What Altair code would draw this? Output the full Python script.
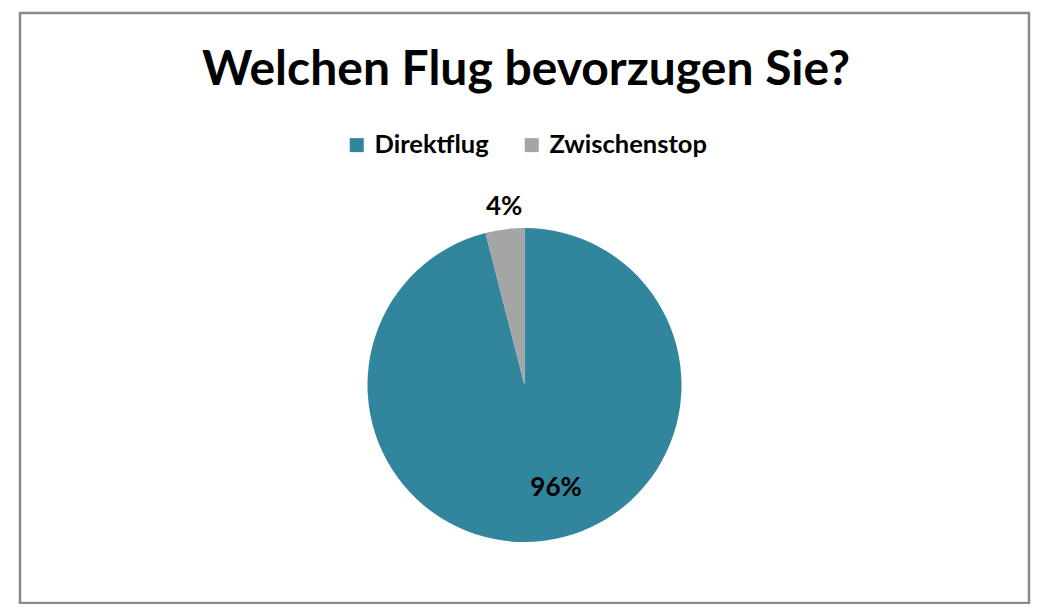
import altair as alt
import pandas as pd

TITLE = "Welchen Flug bevorzugen Sie?"
categories = ["Direktflug", "Zwischenstop"]
values = [96, 4]
labels = ["96%", "4%"]
colors = ["#31859C", "#A5A5A5"]

FONT = "Lato"

df = pd.DataFrame({
    "kategorie": categories,
    "wert": values,
    "label": labels,
    "idx": list(range(len(categories))),
})

base = alt.Chart(df)

theta = alt.Theta("wert:Q", stack=True)
order = alt.Order("idx:Q", sort="ascending")

pie = base.mark_arc(radius=157, stroke=None).encode(
    theta=theta,
    order=order,
    color=alt.Color(
        "kategorie:N",
        scale=alt.Scale(domain=categories, range=colors),
        legend=alt.Legend(
            title=None,
            orient="none",
            direction="horizontal",
            legendX=324,
            legendY=119,
            symbolType="square",
            symbolSize=196,
            symbolStrokeWidth=0,
            labelFont=FONT,
            labelFontSize=25.5,
            labelFontWeight="bold",
            labelColor="#000000",
            labelOffset=5,
            columnPadding=30,
            labelLimit=400,
        ),
    ),
    x=alt.value(504.5),
    y=alt.value(372),
)

lab_small = base.transform_calculate(
    t="datum.kategorie == 'Zwischenstop' ? datum.label : ''"
).mark_text(
    radius=179, dx=2, font=FONT, fontSize=26, fontWeight="bold", color="#000000", baseline="middle"
).encode(theta=theta, order=order, text="t:N", x=alt.value(504.5), y=alt.value(372))

lab_big = base.transform_calculate(
    t="datum.kategorie == 'Direktflug' ? datum.label : ''"
).mark_text(
    radius=108, dx=18, dy=-4, font=FONT, fontSize=26, fontWeight="bold", color="#000000", baseline="middle"
).encode(theta=theta, order=order, text="t:N", x=alt.value(504.5), y=alt.value(372))

title = alt.Chart(pd.DataFrame({"t": [TITLE]})).mark_text(
    font=FONT, fontSize=48, fontWeight="bold", color="#000000", baseline="alphabetic", align="center"
).encode(text="t:N", x=alt.value(506), y=alt.value(72))

chart = alt.layer(pie, lab_small, lab_big, title).properties(
    width=1028,
    height=596,
    padding={"left": 12, "top": 5, "right": 7, "bottom": 1},
    autosize=alt.AutoSizeParams(type="fit", contains="padding"),
    background="#ffffff",
).configure_view(stroke="#8a8a8a", strokeWidth=2.5)

chart.save("out.html", embed_options={"renderer": "svg", "actions": False})
